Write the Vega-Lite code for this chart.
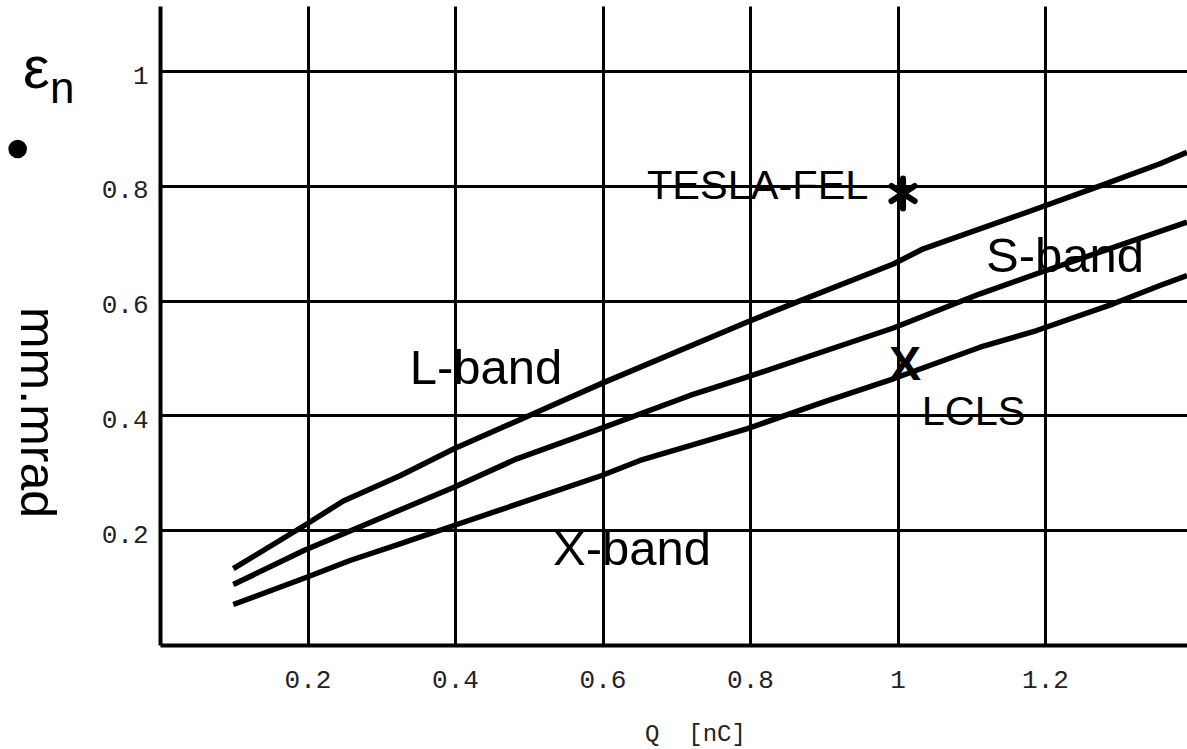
{
  "$schema": "https://vega.github.io/schema/vega-lite/v6.json",
  "width": 1027,
  "height": 639,
  "autosize": {"type": "none"},
  "padding": {"left": 160, "top": 6, "right": 0, "bottom": 104},
  "background": "white",
  "view": {"stroke": null},
  "datasets": {
    "curves": [
      {"band": "L", "Q": 0.0994, "E": 0.133},
      {"band": "L", "Q": 0.198, "E": 0.21},
      {"band": "L", "Q": 0.2485, "E": 0.251},
      {"band": "L", "Q": 0.3254, "E": 0.295},
      {"band": "L", "Q": 0.3986, "E": 0.342},
      {"band": "L", "Q": 0.5062, "E": 0.403},
      {"band": "L", "Q": 0.599, "E": 0.456},
      {"band": "L", "Q": 0.7955, "E": 0.5626},
      {"band": "L", "Q": 0.8633, "E": 0.5975},
      {"band": "L", "Q": 0.9943, "E": 0.664},
      {"band": "L", "Q": 1.035, "E": 0.6905},
      {"band": "L", "Q": 1.1887, "E": 0.7603},
      {"band": "L", "Q": 1.27, "E": 0.798},
      {"band": "L", "Q": 1.3559, "E": 0.8387},
      {"band": "L", "Q": 1.3925, "E": 0.8589},
      {"band": "S", "Q": 0.0994, "E": 0.1054},
      {"band": "S", "Q": 0.195, "E": 0.1647},
      {"band": "S", "Q": 0.3986, "E": 0.275},
      {"band": "S", "Q": 0.4837, "E": 0.3245},
      {"band": "S", "Q": 0.599, "E": 0.378},
      {"band": "S", "Q": 0.7186, "E": 0.4349},
      {"band": "S", "Q": 0.7955, "E": 0.4667},
      {"band": "S", "Q": 0.9943, "E": 0.5525},
      {"band": "S", "Q": 1.1119, "E": 0.6121},
      {"band": "S", "Q": 1.1887, "E": 0.647},
      {"band": "S", "Q": 1.3925, "E": 0.7369},
      {"band": "X", "Q": 0.0994, "E": 0.0706},
      {"band": "X", "Q": 0.198, "E": 0.1176},
      {"band": "X", "Q": 0.2576, "E": 0.1473},
      {"band": "X", "Q": 0.3254, "E": 0.1764},
      {"band": "X", "Q": 0.3986, "E": 0.2083},
      {"band": "X", "Q": 0.599, "E": 0.2954},
      {"band": "X", "Q": 0.6508, "E": 0.3216},
      {"band": "X", "Q": 0.7955, "E": 0.3768},
      {"band": "X", "Q": 0.8994, "E": 0.4232},
      {"band": "X", "Q": 0.9943, "E": 0.464},
      {"band": "X", "Q": 1.1119, "E": 0.519},
      {"band": "X", "Q": 1.1887, "E": 0.5481},
      {"band": "X", "Q": 1.2926, "E": 0.5947},
      {"band": "X", "Q": 1.3559, "E": 0.6266},
      {"band": "X", "Q": 1.3925, "E": 0.644}
    ],
    "bandLabels": [
      {"label": "L-band", "Q": 0.442, "E": 0.4553},
      {"label": "S-band", "Q": 1.2271, "E": 0.6498},
      {"label": "X-band", "Q": 0.64, "E": 0.1386}
    ],
    "pointLabels": [
      {"label": "TESLA-FEL", "Q": 0.6603, "E": 0.7777},
      {"label": "LCLS", "Q": 1.0328, "E": 0.3843}
    ],
    "lcls": [{"label": "X", "Q": 1.0102, "E": 0.4619}],
    "tesla": [{"Q": 1.0075, "E": 0.7869}],
    "symbol": [{"label": "ε", "Q": -0.1675, "E": 0.97}],
    "subscript": [{"label": "n", "Q": -0.1492, "E": 0.9438}],
    "bullet": [{"Q": -0.193, "E": 0.8645}]
  },
  "encoding": {
    "x": {
      "field": "Q",
      "type": "quantitative",
      "scale": {"domain": [0, 1.3925], "nice": false, "zero": false},
      "axis": {
        "values": [0.2, 0.4, 0.6, 0.8, 1, 1.2],
        "format": "~g",
        "title": "Q\u00a0\u00a0[nC]",
        "grid": true,
        "gridColor": "black",
        "gridWidth": 3,
        "gridOpacity": 1,
        "domainColor": "black",
        "domainWidth": 4,
        "ticks": false,
        "tickSize": 0,
        "labelFont": "Liberation Mono",
        "labelFontSize": 26,
        "labelColor": "#222",
        "labelBaseline": "top",
        "labelPadding": 21,
        "labelFlush": false,
        "titleFont": "Liberation Mono",
        "titleFontSize": 24,
        "titleFontWeight": "normal",
        "titleColor": "#222",
        "titleAlign": "center",
        "titleBaseline": "middle",
        "titleX": 535,
        "titleY": 88,
        "zindex": 1
      }
    },
    "y": {
      "field": "E",
      "type": "quantitative",
      "scale": {"domain": [0, 1.1137], "nice": false, "zero": false},
      "axis": {
        "values": [0.2, 0.4, 0.6, 0.8, 1],
        "format": "~g",
        "title": "mm.mrad",
        "grid": true,
        "gridColor": "black",
        "gridWidth": 3,
        "gridOpacity": 1,
        "domainColor": "black",
        "domainWidth": 4,
        "ticks": false,
        "tickSize": 0,
        "labelFont": "Liberation Mono",
        "labelFontSize": 26,
        "labelColor": "#222",
        "labelBaseline": "middle",
        "labelPadding": 12,
        "labelOffset": 4,
        "labelFlush": false,
        "titleFont": "Liberation Sans",
        "titleFontSize": 50,
        "titleFontWeight": "normal",
        "titleColor": "black",
        "titleAngle": 90,
        "titleAlign": "center",
        "titleBaseline": "alphabetic",
        "titleX": -140,
        "titleY": 406,
        "zindex": 1
      }
    }
  },
  "layer": [
    {
      "data": {"name": "curves"},
      "mark": {"type": "line", "color": "black", "strokeWidth": 5.5, "strokeCap": "butt", "strokeJoin": "round"},
      "encoding": {"detail": {"field": "band", "type": "nominal"}}
    },
    {
      "data": {"name": "bandLabels"},
      "mark": {"type": "text", "font": "Liberation Sans", "fontSize": 49, "align": "center", "baseline": "alphabetic", "color": "black"},
      "encoding": {"text": {"field": "label"}}
    },
    {
      "data": {"name": "pointLabels"},
      "mark": {"type": "text", "font": "Liberation Sans", "fontSize": 41.5, "align": "left", "baseline": "alphabetic", "color": "black"},
      "encoding": {"text": {"field": "label"}}
    },
    {
      "data": {"name": "lcls"},
      "mark": {"type": "text", "font": "Liberation Sans", "fontSize": 48, "fontWeight": "bold", "align": "center", "baseline": "alphabetic", "color": "black"},
      "encoding": {"text": {"field": "label"}}
    },
    {
      "data": {"name": "tesla"},
      "mark": {"type": "point", "shape": "M0,-1L0,1M-0.77,-0.5L0.77,0.5M-0.77,0.5L0.77,-0.5", "size": 900, "filled": false, "stroke": "black", "strokeWidth": 6, "strokeCap": "round", "opacity": 1}
    },
    {
      "data": {"name": "symbol"},
      "mark": {"type": "text", "font": "Liberation Sans", "fontSize": 60, "align": "center", "baseline": "alphabetic", "color": "black"},
      "encoding": {"text": {"field": "label"}}
    },
    {
      "data": {"name": "subscript"},
      "mark": {"type": "text", "font": "Liberation Sans", "fontSize": 44, "align": "left", "baseline": "alphabetic", "color": "black"},
      "encoding": {"text": {"field": "label"}}
    },
    {
      "data": {"name": "bullet"},
      "mark": {"type": "point", "shape": "circle", "size": 346, "filled": true, "color": "black", "opacity": 1}
    },
    {
      "data": {"values": [{}]},
      "mark": {"type": "rule", "color": "black", "strokeWidth": 4},
      "encoding": {
        "x": {"datum": 0},
        "x2": {"datum": 1.3925},
        "y": {"datum": 1.1137}
      }
    }
  ]
}
